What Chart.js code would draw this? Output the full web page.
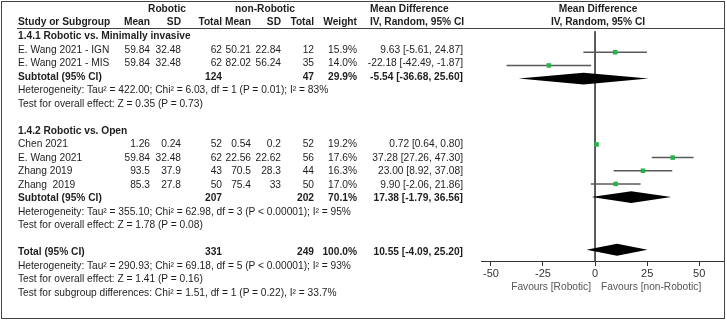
<!DOCTYPE html>
<html>
<head>
<meta charset="utf-8">
<script src="https://cdn.jsdelivr.net/npm/chart.js@4.4.1/dist/chart.umd.min.js"></script>
<style>
  html, body { margin: 0; padding: 0; background: #fff; }
  #wrap { position: relative; width: 727px; height: 322px; overflow: hidden;
          font-family: "Liberation Sans", Arial, sans-serif; font-size: 10.2px; color: #1e1e1e; }
  #frame { position: absolute; left: 1px; top: 1px; width: 722px; height: 316px; border: 1px solid #444; }
  #rule { position: absolute; left: 17px; top: 28px; width: 708px; height: 0; border-top: 1px solid #444; }
  canvas { position: absolute; left: 0; top: 0; }
  .t { position: absolute; white-space: pre; line-height: 13px; }
  .b { font-weight: bold; }
  .fav { color: #555; }
</style>
</head>
<body>
<div id="wrap">
  <canvas id="forest" width="727" height="322"></canvas>
  <div id="frame"></div>
  <div id="rule"></div>
</div>
<script>
// studies
const studies = ['E. Wang 2021 - IGN', 'E. Wang 2021 - MIS', 'Chen 2021', 'E. Wang 2021', 'Zhang 2019', 'Zhang  2019'];
const studyRows = [1, 2, 8, 9, 10, 11];
const robMean = [59.84, 59.84, 1.26, 59.84, 93.5, 85.3];
const robSD = [32.48, 32.48, 0.24, 32.48, 37.9, 27.8];
const robN = [62, 62, 52, 62, 43, 50];
const nonMean = [50.21, 82.02, 0.54, 22.56, 70.5, 75.4];
const nonSD = [22.84, 56.24, 0.2, 22.62, 28.3, 33];
const nonN = [12, 35, 52, 56, 44, 50];
const weights = ['15.9%', '14.0%', '19.2%', '17.6%', '16.3%', '17.0%'];
const md = [9.63, -22.18, 0.72, 37.28, 23.00, 9.90];
const mdLo = [-5.61, -42.49, 0.64, 27.26, 8.92, -2.06];
const mdHi = [24.87, -1.87, 0.80, 47.30, 37.08, 21.86];

// subgroups + overall
const groupTitles = ['1.4.1 Robotic vs. Minimally invasive', '1.4.2 Robotic vs. Open'];
const groupRows = [0, 7];
const pooledLabels = ['Subtotal (95% CI)', 'Subtotal (95% CI)', 'Total (95% CI)'];
const pooledRows = [3, 12, 16];
const pooledRobN = [124, 207, 331];
const pooledNonN = [47, 202, 249];
const pooledWeight = ['29.9%', '70.1%', '100.0%'];
const pooledMd = [-5.54, 17.38, 10.55];
const pooledLo = [-36.68, -1.79, -4.09];
const pooledHi = [25.60, 36.56, 25.20];

const notes = [
  'Heterogeneity: Tau² = 422.00; Chi² = 6.03, df = 1 (P = 0.01); I² = 83%',
  'Test for overall effect: Z = 0.35 (P = 0.73)',
  'Heterogeneity: Tau² = 355.10; Chi² = 62.98, df = 3 (P < 0.00001); I² = 95%',
  'Test for overall effect: Z = 1.78 (P = 0.08)',
  'Heterogeneity: Tau² = 290.93; Chi² = 69.18, df = 5 (P < 0.00001); I² = 93%',
  'Test for overall effect: Z = 1.41 (P = 0.16)',
  'Test for subgroup differences: Chi² = 1.51, df = 1 (P = 0.22), I² = 33.7%'
];
const noteRows = [4, 5, 13, 14, 17, 18, 19];

const xTicks = [-50, -25, 0, 25, 50];
const favours = ['Favours [Robotic]', 'Favours [non-Robotic]'];

// layout
const ROW0 = 36, ROW_H = 13.5;
const PLOT_L = 481, PLOT_R = 725, ZERO_PX = 596, PX_PER_UNIT = 2.1;
const HEADER_ROW = (28 - ROW0) / ROW_H;
const AXIS_ROW = (264 - ROW0) / ROW_H;
const DIAMOND_H = 0.45;

const wrap = document.getElementById('wrap');
const rowY = r => ROW0 + ROW_H * r;

function put(text, x, y, align, cls) {
  const d = document.createElement('div');
  d.className = 't ' + (cls || '');
  d.textContent = text;
  d.style.top = (y - 7) + 'px';
  if (align === 'right') {
    d.style.left = (x - 300) + 'px'; d.style.width = '300px'; d.style.textAlign = 'right';
  } else if (align === 'center') {
    d.style.left = (x - 150) + 'px'; d.style.width = '300px'; d.style.textAlign = 'center';
  } else {
    d.style.left = x + 'px';
  }
  wrap.appendChild(d);
}

const cols = { mean1: 150, sd1: 181, n1: 222, mean2: 251, sd2: 281, n2: 314, w: 357, ci: 463 };
const ci = (m, l, h) => `${m.toFixed(2)} [${l.toFixed(2)}, ${h.toFixed(2)}]`;

// headers
put('Robotic', 167, 9, 'center', 'b');
put('non-Robotic', 265, 9, 'center', 'b');
put('Mean Difference', 370, 9, 'left', 'b');
put('Mean Difference', 598, 9, 'center', 'b');
put('Study or Subgroup', 18, 22, 'left', 'b');
put('Mean', cols.mean1, 22, 'right', 'b');
put('SD', cols.sd1, 22, 'right', 'b');
put('Total', cols.n1, 22, 'right', 'b');
put('Mean', cols.mean2, 22, 'right', 'b');
put('SD', cols.sd2, 22, 'right', 'b');
put('Total', cols.n2, 22, 'right', 'b');
put('Weight', cols.w, 22, 'right', 'b');
put('IV, Random, 95% CI', 370, 22, 'left', 'b');
put('IV, Random, 95% CI', 598, 22, 'center', 'b');

groupTitles.forEach((g, i) => put(g, 18, rowY(groupRows[i]), 'left', 'b'));

studies.forEach((s, i) => {
  const y = rowY(studyRows[i]);
  put(s, 18, y, 'left');
  put(String(robMean[i]), cols.mean1, y, 'right');
  put(String(robSD[i]), cols.sd1, y, 'right');
  put(String(robN[i]), cols.n1, y, 'right');
  put(String(nonMean[i]), cols.mean2, y, 'right');
  put(String(nonSD[i]), cols.sd2, y, 'right');
  put(String(nonN[i]), cols.n2, y, 'right');
  put(weights[i], cols.w, y, 'right');
  put(ci(md[i], mdLo[i], mdHi[i]), cols.ci, y, 'right');
});

pooledLabels.forEach((p, i) => {
  const y = rowY(pooledRows[i]);
  put(p, 18, y, 'left', 'b');
  put(String(pooledRobN[i]), cols.n1, y, 'right', 'b');
  put(String(pooledNonN[i]), cols.n2, y, 'right', 'b');
  put(pooledWeight[i], cols.w, y, 'right', 'b');
  put(ci(pooledMd[i], pooledLo[i], pooledHi[i]), cols.ci, y, 'right', 'b');
});

notes.forEach((n, i) => put(n, 18, rowY(noteRows[i]), 'left'));

put(favours[0], 591, 287, 'right', 'fav');
put(favours[1], 601, 287, 'left', 'fav');

// diamonds for pooled estimates
const diamondPlugin = {
  id: 'diamonds',
  afterDatasetsDraw(chart) {
    const xs = chart.scales.x, ys = chart.scales.y, ctx = chart.ctx;
    ctx.save();
    ctx.fillStyle = '#000';
    pooledMd.forEach((m, i) => {
      const yc = ys.getPixelForValue(pooledRows[i]);
      const hh = Math.abs(ys.getPixelForValue(pooledRows[i] + DIAMOND_H) - yc);
      ctx.beginPath();
      ctx.moveTo(xs.getPixelForValue(pooledLo[i]), yc);
      ctx.lineTo(xs.getPixelForValue(m), yc - hh);
      ctx.lineTo(xs.getPixelForValue(pooledHi[i]), yc);
      ctx.lineTo(xs.getPixelForValue(m), yc + hh);
      ctx.closePath();
      ctx.fill();
    });
    ctx.restore();
  }
};

const ciSets = studies.map((s, i) => ({
  type: 'line',
  label: s,
  data: [{ x: mdLo[i], y: studyRows[i] }, { x: mdHi[i], y: studyRows[i] }],
  borderColor: '#5a5a5a',
  borderWidth: 1.5,
  pointRadius: 0,
  order: 2
}));

new Chart(document.getElementById('forest'), {
  type: 'scatter',
  data: {
    datasets: [
      {
        label: 'Mean difference',
        data: md.map((m, i) => ({ x: m, y: studyRows[i] })),
        pointStyle: 'rect',
        pointRadius: 3.2,
        backgroundColor: '#27b34b',
        borderWidth: 0,
        order: 1
      },
      ...ciSets,
      {
        type: 'line',
        label: 'zero',
        data: [{ x: 0, y: HEADER_ROW }, { x: 0, y: AXIS_ROW }],
        borderColor: '#444',
        borderWidth: 1,
        pointRadius: 0,
        order: 3
      }
    ]
  },
  options: {
    responsive: false,
    animation: false,
    devicePixelRatio: 1,
    layout: { padding: { left: PLOT_L, right: 727 - PLOT_R, top: 0, bottom: 0 } },
    plugins: { legend: { display: false }, tooltip: { enabled: false } },
    scales: {
      x: {
        type: 'linear',
        min: (PLOT_L - ZERO_PX) / PX_PER_UNIT,
        max: (PLOT_R - ZERO_PX) / PX_PER_UNIT,
        position: { y: AXIS_ROW },
        afterBuildTicks: s => { s.ticks = xTicks.map(v => ({ value: v })); },
        grid: { drawOnChartArea: false, tickLength: 4, color: '#333' },
        border: { color: '#333', width: 1 },
        ticks: { color: '#333', padding: 2, font: { family: 'Liberation Sans', size: 11 } }
      },
      y: {
        type: 'linear',
        reverse: true,
        min: -ROW0 / ROW_H,
        max: (322 - ROW0) / ROW_H,
        display: false
      }
    }
  },
  plugins: [diamondPlugin]
});
</script>
</body>
</html>
